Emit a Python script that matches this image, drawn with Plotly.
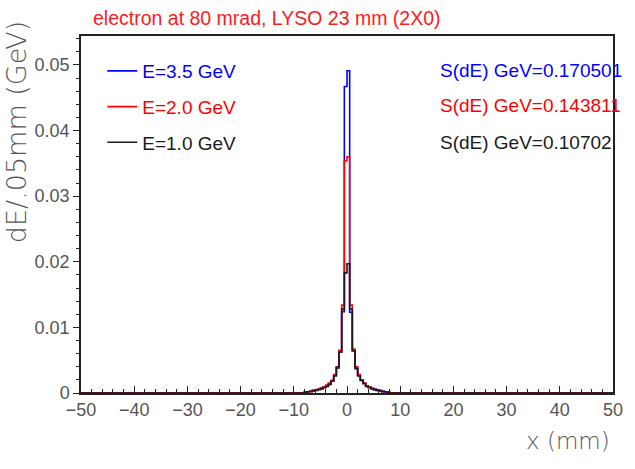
import numpy as np
import plotly.graph_objects as go

# Histogram binning: 0.5 mm bins covering the shower core
bin_low = -8.0
bin_width = 0.5

# Energy deposit per bin (GeV), from x = -8 mm to x = +8 mm
dE_3p5 = [0.0002, 0.0002, 0.0003, 0.0004, 0.0005, 0.0006, 0.0007, 0.0009,
          0.0011, 0.0014, 0.0019, 0.0027, 0.0040, 0.0063, 0.0124, 0.0467,
          0.0491, 0.0123, 0.0065, 0.0039, 0.0027, 0.0020, 0.0015, 0.0011,
          0.0009, 0.0007, 0.0006, 0.0005, 0.0004, 0.0003, 0.0002, 0.0002]
dE_2p0 = [0.0001, 0.0002, 0.0003, 0.0004, 0.0005, 0.0006, 0.0008, 0.0009,
          0.0012, 0.0015, 0.0019, 0.0028, 0.0039, 0.0065, 0.0134, 0.0354,
          0.0360, 0.0134, 0.0067, 0.0040, 0.0028, 0.0020, 0.0015, 0.0011,
          0.0009, 0.0007, 0.0005, 0.0004, 0.0003, 0.0002, 0.0002, 0.0001]
dE_1p0 = [0.0001, 0.0002, 0.0002, 0.0003, 0.0004, 0.0005, 0.0006, 0.0008,
          0.0010, 0.0013, 0.0018, 0.0026, 0.0038, 0.0062, 0.0128, 0.0183,
          0.0197, 0.0128, 0.0064, 0.0037, 0.0026, 0.0019, 0.0014, 0.0010,
          0.0008, 0.0006, 0.0005, 0.0004, 0.0003, 0.0002, 0.0002, 0.0001]

series_names = ["E=3.5 GeV", "E=2.0 GeV", "E=1.0 GeV"]
series_colors = ["#0000ff", "#ff0000", "#1a1a1a"]
sum_labels = ["S(dE) GeV=0.170501", "S(dE) GeV=0.143811", "S(dE) GeV=0.10702"]

x_min, x_max = -50, 50
y_max = 0.0544

SANS = "Liberation Sans, Arial, sans-serif"
LIGHT = "DejaVu Sans, sans-serif"


def step_xy(values):
    """Histogram outline: rise from zero at the first edge, fall back at the last."""
    n = len(values)
    left_edges = bin_low + bin_width * np.arange(n)
    right_end = bin_low + bin_width * n
    xs = [x_min] + list(left_edges) + [right_end, x_max]
    ys = [0.0] + list(values) + [0.0, 0.0]
    return xs, ys


fig = go.Figure()
for i, (vals, name, col) in enumerate(zip([dE_3p5, dE_2p0, dE_1p0], series_names, series_colors)):
    xs, ys = step_xy(vals)
    fig.add_trace(go.Scatter(
        x=xs, y=ys, mode="lines", line_shape="hv",
        line=dict(color=col, width=1.6),
        name=f"<span style='color:{col}'>{name}</span>",
        legendgroup=f"g{i}",
    ))

# Integrated energy labels, upper right
row_y = [0.904, 0.806, 0.703]
for lbl, col, yy in zip(sum_labels, series_colors, row_y):
    fig.add_annotation(
        xref="paper", yref="paper", x=0.671, y=yy, xanchor="left", yanchor="middle",
        text=lbl, showarrow=False, font=dict(family=SANS, size=19, color=col),
    )

# Title
fig.add_annotation(
    xref="paper", yref="paper", x=0.019, y=1.05, xanchor="left", yanchor="middle",
    text="electron at 80 mrad, LYSO 23 mm (2X0)", showarrow=False,
    font=dict(family=SANS, size=19.5, color="#ff1a1a"),
)

# Axis titles
fig.add_annotation(
    xref="paper", yref="paper", x=0.998, y=-0.134, xanchor="right", yanchor="middle",
    text="x (mm)", showarrow=False,
    font=dict(family=LIGHT, size=23, color="#555555", weight=300),
)
fig.add_annotation(
    xref="paper", yref="paper", x=-0.122, y=0.731, xanchor="center", yanchor="middle",
    text="dE/.05mm (GeV)", textangle=-90, showarrow=False,
    font=dict(family=LIGHT, size=27, color="#555555", weight=300),
)

axis_common = dict(
    showline=True, linecolor="#222222", linewidth=1.5, mirror=True,
    showgrid=False, zeroline=False,
    tickfont=dict(family=SANS, size=18, color="#555555"),
    tickcolor="#222222", tickwidth=1.2,
)

fig.update_xaxes(
    range=[x_min, x_max], tick0=-50, dtick=10, ticks="inside", ticklen=7,
    ticklabelstandoff=0,
    minor=dict(dtick=2, ticks="inside", ticklen=4, tickcolor="#222222", tickwidth=1),
    **axis_common,
)
fig.update_yaxes(
    range=[0, y_max], tick0=0, dtick=0.01, ticks="outside", ticklen=6,
    minor=dict(dtick=0.002, ticks="outside", ticklen=3, tickcolor="#222222", tickwidth=1),
    **axis_common,
)

fig.update_layout(
    width=635, height=469,
    margin=dict(l=81, r=22, t=36, b=76),
    paper_bgcolor="white", plot_bgcolor="white",
    showlegend=True,
    legend=dict(
        x=0.04, y=0.955, xanchor="left", yanchor="top",
        bgcolor="rgba(0,0,0,0)", borderwidth=0,
        font=dict(family=SANS, size=19),
        tracegroupgap=8, itemwidth=30,
    ),
)

fig.write_html("out.html")
